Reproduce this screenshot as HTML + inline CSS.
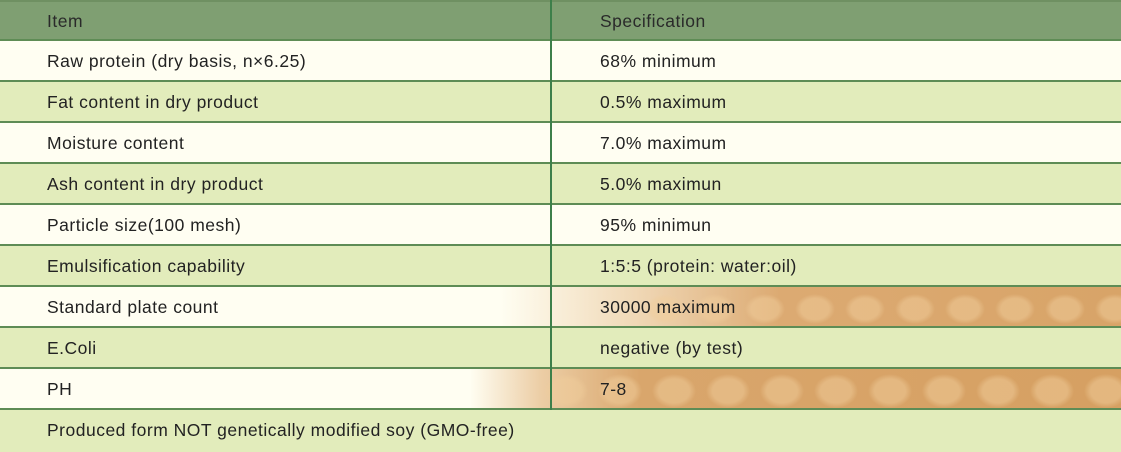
<!DOCTYPE html>
<html><head><style>
html,body{margin:0;padding:0;background:#fffef2;}
#t{position:relative;width:1121px;height:452px;overflow:hidden;font-family:"Liberation Sans",Arial,sans-serif;font-size:17.5px;letter-spacing:0.5px;color:#222;}
.r{position:absolute;left:0;width:1121px;height:41px;box-sizing:border-box;border-bottom:2px solid #5e8c55;}
.r span{position:absolute;top:10px;}
.a{left:47px}.b{left:600px}
.c{background:#fffef2}.g{background:#e2ecbb}
.h{background:#7f9f72;color:#2a2a2a;border-top:2px solid #6f9062;}
.bean{position:absolute;top:0;height:39px;right:0;}
#v{position:absolute;left:550px;top:0;width:2px;height:410px;background:#3d7f4a;}
</style></head><body><div id="t">
<div class="r h" style="top:0"><span class="a" style="top:9px">Item</span><span class="b" style="top:9px">Specification</span></div>
<div class="r c" style="top:41px"><span class="a">Raw protein (dry basis, n×6.25)</span><span class="b">68% minimum</span></div>
<div class="r g" style="top:82px"><span class="a">Fat content in dry product</span><span class="b">0.5% maximum</span></div>
<div class="r c" style="top:123px"><span class="a">Moisture content</span><span class="b">7.0% maximum</span></div>
<div class="r g" style="top:164px"><span class="a">Ash content in dry product</span><span class="b">5.0% maximun</span></div>
<div class="r c" style="top:205px"><span class="a">Particle size(100 mesh)</span><span class="b">95% minimun</span></div>
<div class="r g" style="top:246px"><span class="a">Emulsification capability</span><span class="b">1:5:5 (protein: water:oil)</span></div>
<div class="r c" style="top:287px"><div class="bean" style="left:500px;background:linear-gradient(90deg,rgba(230,190,140,0) 0,rgba(226,180,125,0.45) 120px,#dcaa72 280px,#d8a468 100%);"></div><div class="bean" style="left:640px;background:radial-gradient(ellipse 20px 15px at 25px 22px,rgba(240,205,155,.5) 0 70%,transparent 100%) 0 0/50px 39px;"></div><span class="a">Standard plate count</span><span class="b">30000 maximum</span></div>
<div class="r g" style="top:328px"><span class="a">E.Coli</span><span class="b">negative (by test)</span></div>
<div class="r c" style="top:369px"><div class="bean" style="left:470px;background:linear-gradient(90deg,rgba(230,190,140,0) 0,rgba(226,180,125,0.65) 70px,#d9a66c 170px,#d6a062 100%);"></div><div class="bean" style="left:540px;background:radial-gradient(ellipse 22px 17px at 26px 22px,rgba(240,205,155,.5) 0 70%,transparent 100%) 0 0/54px 39px;"></div><span class="a">PH</span><span class="b">7-8</span></div>
<div class="r g" style="top:410px;height:42px;border-bottom:none"><span class="a">Produced form NOT genetically modified soy (GMO-free)</span></div>
<div id="v"></div>
</div></body></html>
